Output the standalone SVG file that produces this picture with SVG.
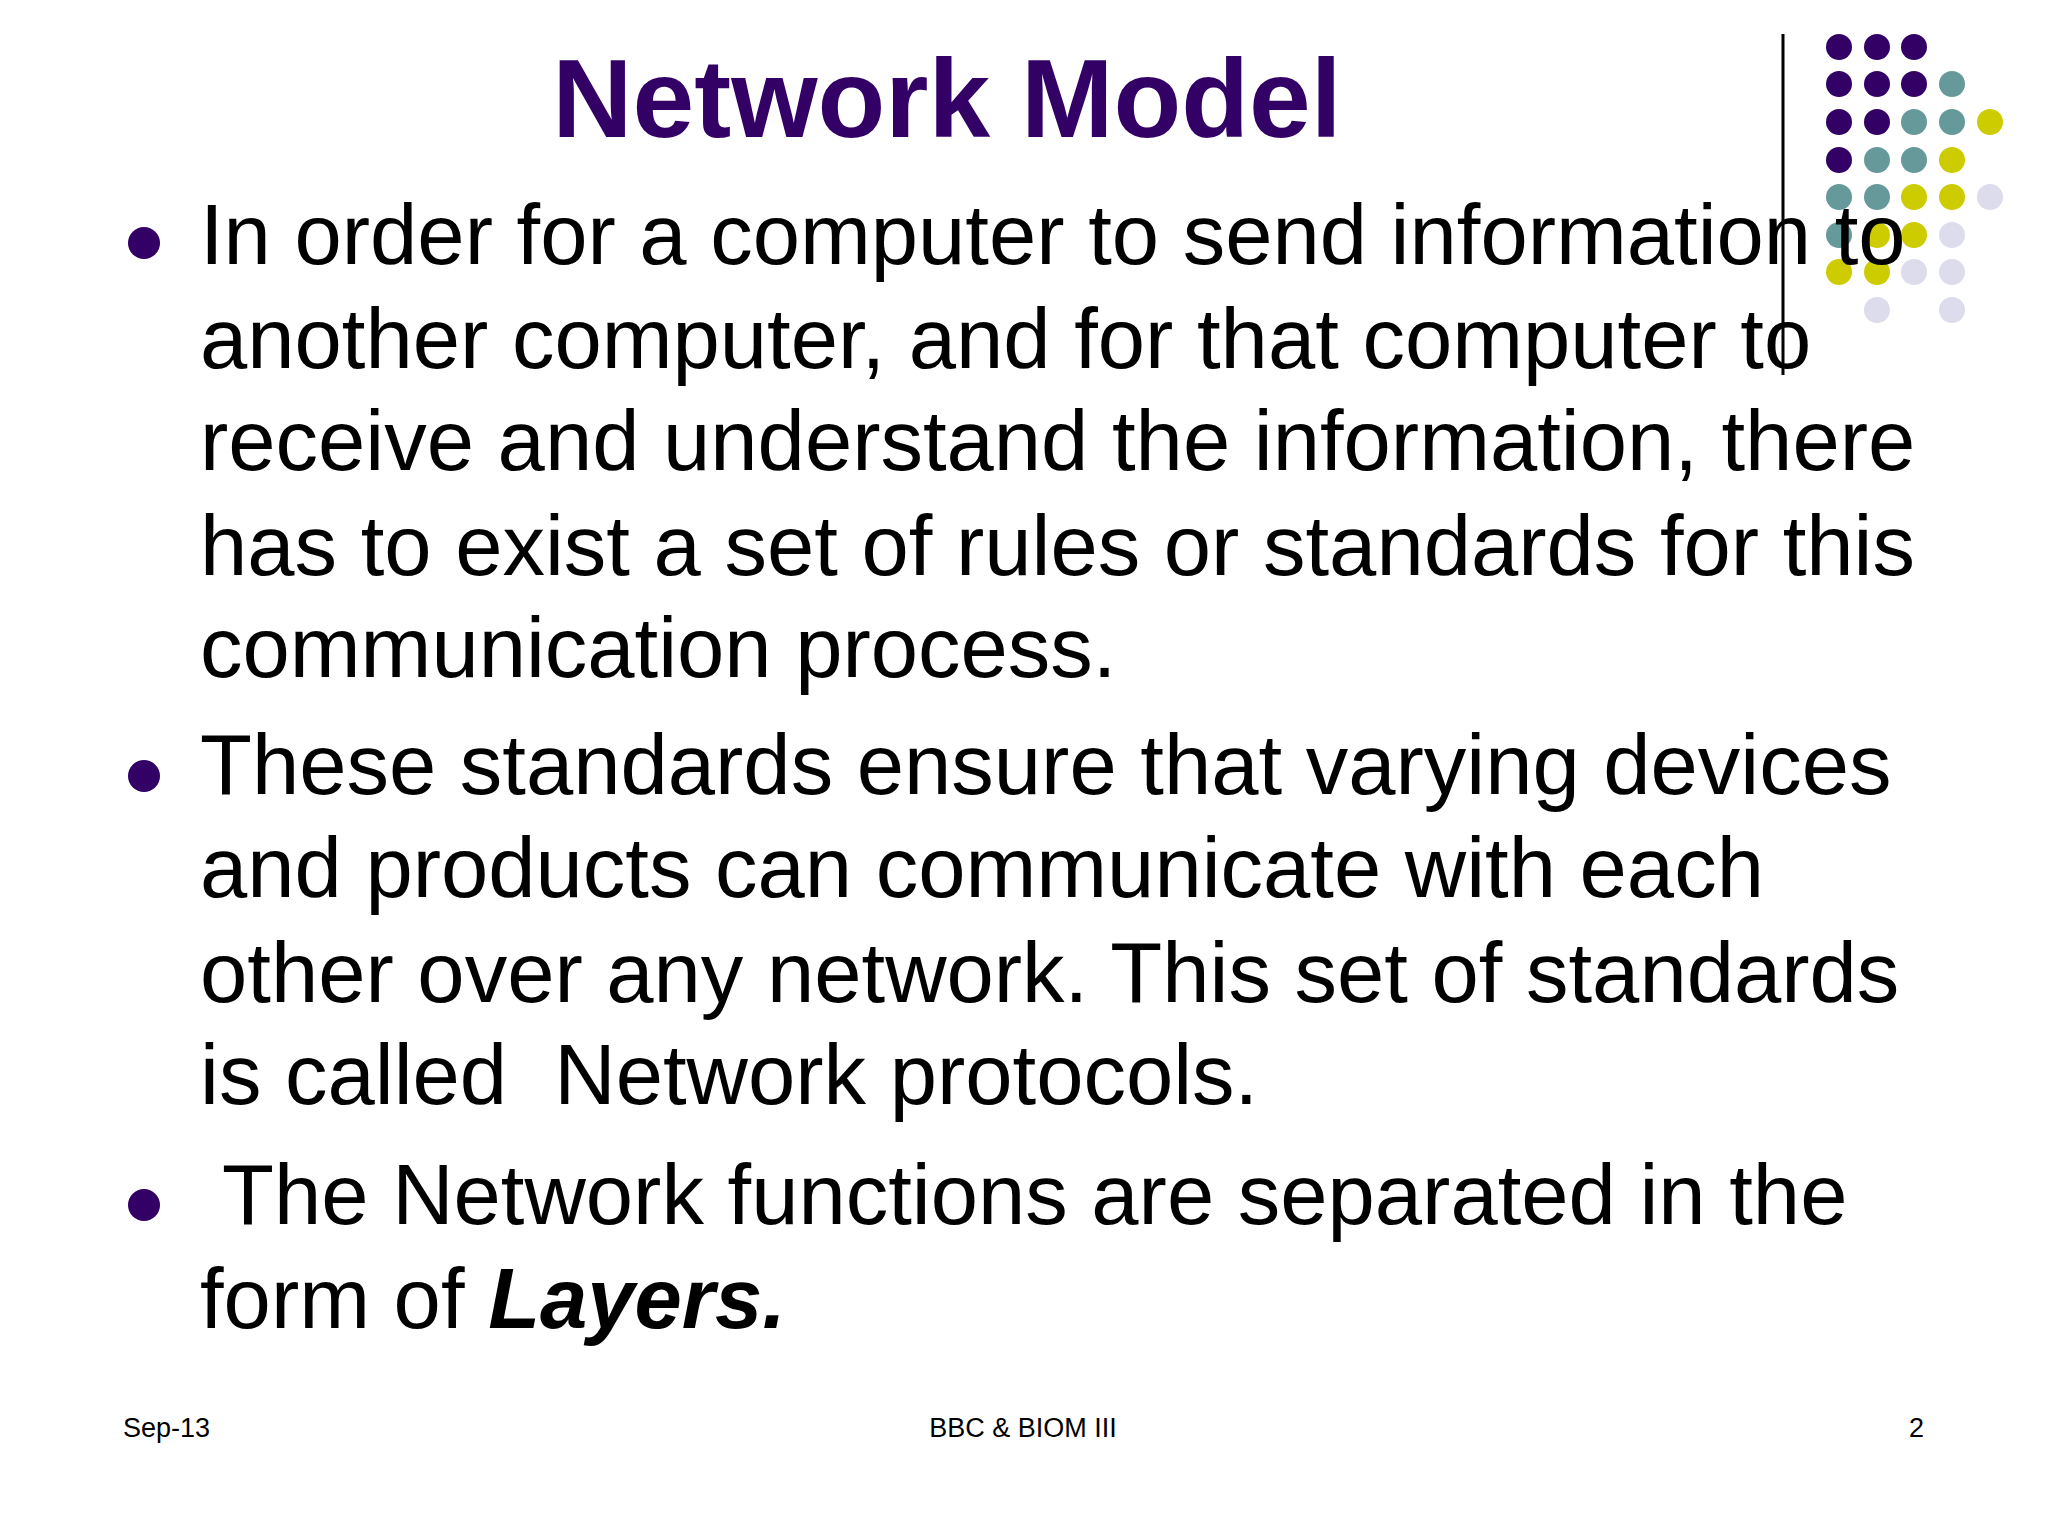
<svg xmlns="http://www.w3.org/2000/svg" width="2048" height="1536" viewBox="0 0 2048 1536">
<style>
.b{font-family:"Liberation Sans",Arial,sans-serif;font-size:85px;fill:#000}
.f{font-family:"Liberation Sans",Arial,sans-serif;font-size:27px;fill:#000}
.P{fill:#330066}.T{fill:#669999}.Y{fill:#cccc00}.L{fill:#dcdcec}
</style>
<rect width="2048" height="1536" fill="#fff"/>
<text x="947" y="137" text-anchor="middle" font-family="Liberation Sans,Arial,sans-serif" font-weight="bold" font-size="111" fill="#330066">Network Model</text>
<line x1="1783" y1="34" x2="1783" y2="375" stroke="#000" stroke-width="3"/>
<g id="dots">
<circle class="P" cx="1839" cy="47" r="13"/><circle class="P" cx="1877" cy="47" r="13"/><circle class="P" cx="1914" cy="47" r="13"/>
<circle class="P" cx="1839" cy="84" r="13"/><circle class="P" cx="1877" cy="84" r="13"/><circle class="P" cx="1914" cy="84" r="13"/><circle class="T" cx="1952" cy="84" r="13"/>
<circle class="P" cx="1839" cy="122" r="13"/><circle class="P" cx="1877" cy="122" r="13"/><circle class="T" cx="1914" cy="122" r="13"/><circle class="T" cx="1952" cy="122" r="13"/><circle class="Y" cx="1990" cy="122" r="13"/>
<circle class="P" cx="1839" cy="160" r="13"/><circle class="T" cx="1877" cy="160" r="13"/><circle class="T" cx="1914" cy="160" r="13"/><circle class="Y" cx="1952" cy="160" r="13"/>
<circle class="T" cx="1839" cy="197" r="13"/><circle class="T" cx="1877" cy="197" r="13"/><circle class="Y" cx="1914" cy="197" r="13"/><circle class="Y" cx="1952" cy="197" r="13"/><circle class="L" cx="1990" cy="197" r="13"/>
<circle class="T" cx="1839" cy="235" r="13"/><circle class="Y" cx="1877" cy="235" r="13"/><circle class="Y" cx="1914" cy="235" r="13"/><circle class="L" cx="1952" cy="235" r="13"/>
<circle class="Y" cx="1839" cy="272" r="13"/><circle class="Y" cx="1877" cy="272" r="13"/><circle class="L" cx="1914" cy="272" r="13"/><circle class="L" cx="1952" cy="272" r="13"/>
<circle class="L" cx="1877" cy="310" r="13"/><circle class="L" cx="1952" cy="310" r="13"/>
</g>
<g id="bullets" fill="#330066">
<circle cx="144" cy="243" r="16"/><circle cx="144" cy="776" r="16"/><circle cx="144" cy="1205" r="16"/>
</g>
<g id="body">
<text class="b" x="200" y="264">In order for a computer to send information to</text>
<text class="b" x="200" y="368">another computer, and for that computer to</text>
<text class="b" x="200" y="470">receive and understand the information, there</text>
<text class="b" x="200" y="575">has to exist a set of rules or standards for this</text>
<text class="b" x="200" y="677">communication process.</text>
<text class="b" x="200" y="794">These standards ensure that varying devices</text>
<text class="b" x="200" y="897">and products can communicate with each</text>
<text class="b" x="200" y="1002">other over any network. This set of standards</text>
<text class="b" x="200" y="1104" xml:space="preserve">is called  Network protocols.</text>
<text class="b" x="200" y="1224" xml:space="preserve"> The Network functions are separated in the</text>
<text class="b" x="200" y="1328">form of <tspan font-weight="bold" font-style="italic">Layers.</tspan></text>
</g>
<g id="footer">
<text class="f" x="123" y="1437">Sep-13</text>
<text class="f" x="1023" y="1437" text-anchor="middle">BBC &amp; BIOM III</text>
<text class="f" x="1924" y="1437" text-anchor="end">2</text>
</g>
</svg>
